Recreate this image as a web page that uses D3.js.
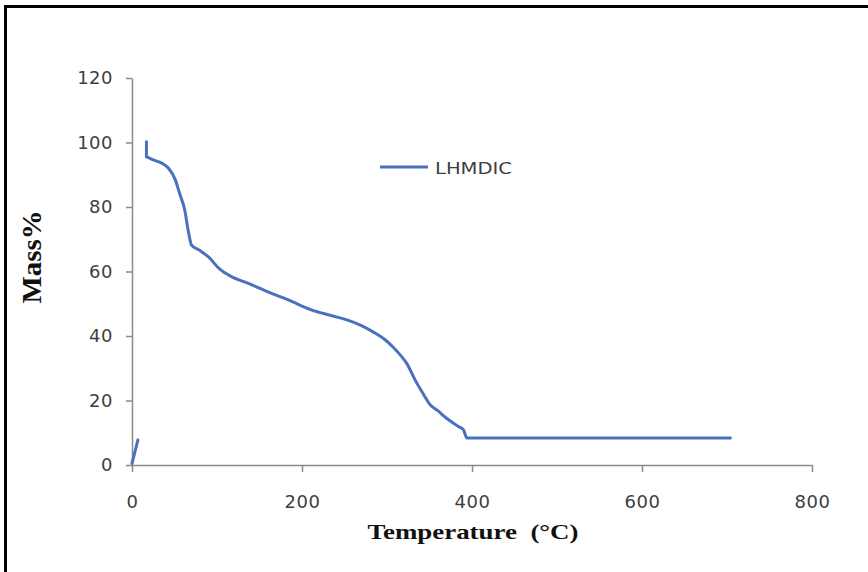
<!DOCTYPE html>
<html>
<head>
<meta charset="utf-8">
<script src="https://cdn.jsdelivr.net/npm/d3@7"></script>
<style>
  body { margin: 0; background: #fff; }
  svg { display: block; }
</style>
</head>
<body>
<svg width="868" height="572"></svg>
<script>
const svg = d3.select("svg");

// Data (temperature in C, mass in %)
const startTemp = [0, 7];
const startMass = [0.5, 7.8];
const temps = [17, 17, 25, 35, 43, 51, 56, 62, 66, 70, 80, 90, 103, 117, 137, 160, 184, 211, 235, 253, 270, 284, 297, 307, 316, 323, 333, 342, 351, 359, 370, 385, 390, 394, 704];
const mass  = [100.2, 95.6, 94.6, 93.6, 92.0, 88.4, 84.2, 79.1, 72.9, 68.2, 66.5, 64.5, 60.8, 58.4, 56.3, 53.7, 51.2, 48.1, 46.3, 45.0, 43.2, 41.2, 39.0, 36.6, 34.0, 31.6, 26.4, 22.3, 18.6, 17.0, 14.5, 11.8, 10.9, 8.4, 8.4];
const xTicks = [0, 200, 400, 600, 800];
const yTicks = [0, 20, 40, 60, 80, 100, 120];
const seriesName = "LHMDIC";

const lineColor = "#4a70c0";
const axisColor = "#8a8a8a";

// outer frame (runs off right and bottom edge)
svg.append("rect")
    .attr("x", 5.5).attr("y", 6.5)
    .attr("width", 900).attr("height", 600)
    .attr("fill", "none")
    .attr("stroke", "#000")
    .attr("stroke-width", 3);

const x = d3.scaleLinear().domain([0, 800]).range([132, 812]);
const y = d3.scaleLinear().domain([0, 120]).range([465, 78]);

// y axis
const yAxis = svg.append("g")
    .attr("transform", "translate(132,0)")
    .call(d3.axisLeft(y).tickValues(yTicks).tickSize(6).tickSizeOuter(0).tickPadding(13));

// x axis
const xAxis = svg.append("g")
    .attr("transform", "translate(0,465)")
    .call(d3.axisBottom(x).tickValues(xTicks).tickSize(7).tickSizeOuter(0).tickPadding(23));

[xAxis, yAxis].forEach(g => {
    g.select(".domain").attr("stroke", axisColor).attr("stroke-width", 1.5);
    g.selectAll(".tick line").attr("stroke", axisColor).attr("stroke-width", 1.5);
    g.selectAll(".tick text")
        .attr("fill", "#404040")
        .style("font-family", "'DejaVu Sans', sans-serif")
        .style("font-size", "18px")
        .style("letter-spacing", "0.5px");
});

// the curve: straight pieces for the jumps, monotone for the rest
const straight = d3.line()
    .x(d => x(d[0]))
    .y(d => y(d[1]));

const smooth = d3.line()
    .x(d => x(d[0]))
    .y(d => y(d[1]))
    .curve(d3.curveMonotoneX);

const startPts = startTemp.map((t, i) => [t, startMass[i]]);
const mainPts = temps.map((t, i) => [t, mass[i]]);

const pieces = [
    [startPts, straight],
    [mainPts.slice(0, 2), straight],
    [mainPts.slice(1), smooth]
];

pieces.forEach(([pts, gen]) => {
    svg.append("path")
        .datum(pts)
        .attr("d", gen)
        .attr("fill", "none")
        .attr("stroke", lineColor)
        .attr("stroke-width", 3)
        .attr("stroke-linejoin", "round")
        .attr("stroke-linecap", "round");
});

// legend
svg.append("line")
    .attr("x1", 380).attr("x2", 428)
    .attr("y1", 167).attr("y2", 167)
    .attr("stroke", lineColor)
    .attr("stroke-width", 3);

svg.append("text")
    .attr("x", 435).attr("y", 174)
    .attr("fill", "#404040")
    .style("font-family", "'DejaVu Sans', sans-serif")
    .style("font-size", "16px")
    .attr("textLength", 77)
    .attr("lengthAdjust", "spacingAndGlyphs")
    .text(seriesName);

// axis titles
svg.append("text")
    .attr("x", 473).attr("y", 539)
    .attr("text-anchor", "middle")
    .attr("fill", "#111")
    .style("font-family", "'Liberation Serif', 'Times New Roman', serif")
    .style("font-weight", "bold")
    .style("font-size", "21px")
    .style("white-space", "pre")
    .attr("textLength", 211)
    .attr("lengthAdjust", "spacingAndGlyphs")
    .text("Temperature  (\u00B0C)");

svg.append("text")
    .attr("transform", "translate(41,257) scale(1.28,1) rotate(-90)")
    .attr("text-anchor", "middle")
    .attr("fill", "#111")
    .style("font-family", "'Liberation Serif', 'Times New Roman', serif")
    .style("font-weight", "bold")
    .style("font-size", "22px")
    .attr("textLength", 93)
    .attr("lengthAdjust", "spacingAndGlyphs")
    .text("Mass%");
</script>
</body>
</html>
